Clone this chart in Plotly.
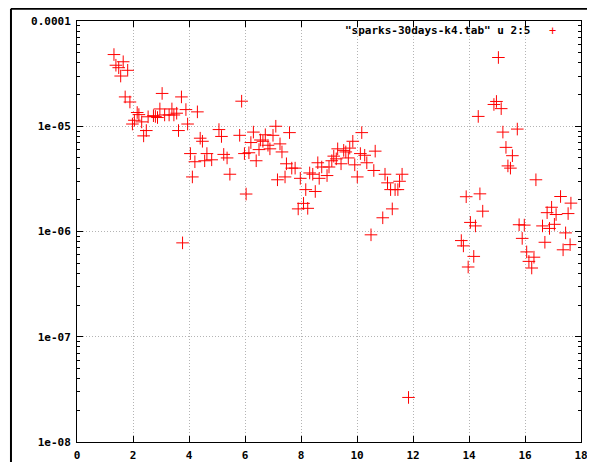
import plotly.graph_objects as go

# Data (x = column 2, y = column 5)
x_vals = [
    1.32, 1.65, 1.39, 1.49, 1.81, 1.56, 1.72, 1.89, 3.04, 3.73,
    2.15, 2.21, 2.05, 1.98, 2.31, 2.54, 2.73, 2.80, 2.875, 2.96,
    3.13, 3.29, 3.39, 3.46, 3.56, 2.475, 2.38, 3.625, 3.77, 3.89,
    4.30, 3.95, 4.40, 4.48, 4.05, 4.21, 4.12, 5.07, 5.16, 4.64,
    4.56, 4.81, 5.24, 5.36, 5.46, 5.88, 5.81, 6.30, 6.21, 6.725,
    7.00, 7.10, 6.55, 6.64, 6.82, 6.89, 7.25, 7.32, 6.50, 5.98,
    6.14, 6.40, 6.04, 7.59, 7.48, 7.16, 7.43, 10.17, 9.85, 9.31,
    9.525, 9.60, 9.74, 9.17, 9.10, 9.26, 9.69, 10.12, 10.275, 10.65,
    9.43, 9.92, 10.35, 8.60, 9.00, 8.74, 7.67, 7.79, 8.31, 8.42,
    8.65, 8.93, 7.975, 10.01, 10.60, 11.00, 11.09, 11.61, 11.52, 11.20,
    11.36, 11.46, 8.17, 8.51, 8.09, 7.90, 8.24, 11.26, 10.92, 10.50,
    11.84, 15.05, 14.89, 14.98, 15.15, 14.33, 15.21, 15.725, 15.32, 15.55,
    15.39, 15.48, 16.39, 13.90, 14.39, 14.49, 14.05, 14.23, 13.725, 13.80,
    14.17, 13.97, 15.79, 15.975, 15.90, 16.06, 16.14, 16.24, 16.32, 16.625,
    16.875, 17.05, 16.71, 16.79, 16.95, 17.11, 17.27, 17.54, 17.64, 17.45,
    17.36, 17.61,
]
y_vals = [
    4.8e-5, 4.1e-5, 3.8e-5, 3.6e-5, 3.4e-5, 3.0e-5, 1.9e-5, 1.7e-5, 2.05e-5, 1.9e-5,
    1.35e-5, 1.29e-5, 1.14e-5, 1.05e-5, 1.10e-5, 1.23e-5, 1.26e-5, 1.24e-5, 1.21e-5, 1.46e-5,
    1.28e-5, 1.28e-5, 1.46e-5, 1.28e-5, 1.33e-5, 9.1e-6, 8.1e-6, 9.1e-6, 7.8e-7, 1.44e-5,
    1.37e-5, 1.05e-5, 7.7e-6, 7.2e-6, 5.5e-6, 4.6e-6, 3.3e-6, 9.3e-6, 8.0e-6, 5.5e-6,
    4.7e-6, 4.8e-6, 5.4e-6, 5.0e-6, 3.5e-6, 1.73e-5, 8.2e-6, 8.8e-6, 7.0e-6, 8.3e-6,
    8.2e-6, 1.0e-5, 7.4e-6, 7.2e-6, 6.6e-6, 6.1e-6, 6.8e-6, 5.7e-6, 6.0e-6, 5.5e-6,
    5.6e-6, 4.7e-6, 2.27e-6, 8.7e-6, 4.4e-6, 3.1e-6, 3.3e-6, 8.7e-6, 7.2e-6, 6.1e-6,
    5.9e-6, 5.7e-6, 6.2e-6, 5.2e-6, 4.7e-6, 4.9e-6, 5.0e-6, 5.5e-6, 5.3e-6, 5.8e-6,
    4.4e-6, 4.3e-6, 4.5e-6, 4.5e-6, 4.1e-6, 4.1e-6, 4.0e-6, 4.0e-6, 3.6e-6, 3.5e-6,
    3.2e-6, 3.4e-6, 3.2e-6, 3.3e-6, 3.8e-6, 3.5e-6, 2.9e-6, 3.5e-6, 3.0e-6, 2.5e-6,
    2.5e-6, 2.5e-6, 2.5e-6, 2.4e-6, 1.85e-6, 1.64e-6, 1.66e-6, 1.64e-6, 1.35e-6, 9.3e-7,
    2.65e-8, 4.5e-5, 1.61e-5, 1.72e-5, 1.47e-5, 1.24e-5, 8.8e-6, 9.4e-6, 6.3e-6, 5.25e-6,
    4.2e-6, 4.0e-6, 3.1e-6, 2.14e-6, 2.28e-6, 1.56e-6, 1.22e-6, 1.13e-6, 8.2e-7, 7.3e-7,
    5.8e-7, 4.6e-7, 1.16e-6, 1.15e-6, 8.6e-7, 6.4e-7, 5.2e-7, 4.5e-7, 5.7e-7, 1.13e-6,
    1.07e-6, 1.17e-6, 7.9e-7, 1.51e-6, 1.70e-6, 1.45e-6, 2.15e-6, 1.48e-6, 1.86e-6, 9.7e-7,
    6.7e-7, 7.5e-7,
]

x_tickvals = [0, 2, 4, 6, 8, 10, 12, 14, 16, 18]
x_ticktext = ["0", "2", "4", "6", "8", "10", "12", "14", "16", "18"]
y_tickvals = [1e-8, 1e-7, 1e-6, 1e-5, 1e-4]
y_ticktext = ["1e-08", "1e-07", "1e-06", "1e-05", "0.0001"]
legend_label = '"sparks-30days-k4.tab" u 2:5'

RED = "#ff0000"
FONT = "DejaVu Sans Mono"

fig = go.Figure()
fig.add_trace(go.Scatter(
    x=x_vals, y=y_vals, mode="markers",
    marker=dict(symbol="cross-thin", size=9, color=RED,
                line=dict(width=1, color=RED)),
    showlegend=False, hoverinfo="x+y",
))

axis_common = dict(
    showline=True, linecolor="black", linewidth=1, mirror="ticks",
    ticks="inside", ticklen=6, tickcolor="black", tickwidth=1,
    showgrid=True, gridcolor="#b4b4b4", griddash="1px,2px", gridwidth=1,
    zeroline=False, automargin=False,
    tickfont=dict(family=FONT, size=11, color="black", weight="bold"),
)

fig.update_xaxes(range=[0, 18], tickvals=x_tickvals, ticktext=x_ticktext,
                 ticklabelstandoff=3, **axis_common)
fig.update_yaxes(type="log", range=[-8, -4], tickvals=y_tickvals,
                 ticktext=y_ticktext, ticklabelstandoff=3,
                 minor=dict(ticks="inside", ticklen=3, tickcolor="black",
                            tickwidth=1, dtick="D1", showgrid=False),
                 **axis_common)

# key (gnuplot style: text then sample)
fig.add_annotation(xref="paper", yref="paper", x=0.902, y=0.977,
                   xanchor="right", yanchor="middle", showarrow=False,
                   text=legend_label,
                   font=dict(family=FONT, size=11, color="black", weight="bold"))
fig.add_annotation(xref="paper", yref="paper", x=0.943, y=0.977,
                   xanchor="center", yanchor="middle", showarrow=False,
                   text="+", font=dict(family=FONT, size=12, color=RED))

# outer window frame (left and top edges)
fig.add_shape(type="line", xref="paper", yref="paper",
              x0=-0.131, x1=-0.131, y0=-0.1, y1=1.029,
              line=dict(color="black", width=2))
fig.add_shape(type="line", xref="paper", yref="paper",
              x0=-0.131, x1=1.1, y0=1.029, y1=1.029,
              line=dict(color="black", width=2))

# the page body adds an 8px offset, so the figure is 8px smaller with shifted margins
fig.update_layout(
    width=587, height=454,
    margin=dict(l=69, r=14, t=13, b=20),
    paper_bgcolor="white", plot_bgcolor="white",
)

fig.write_html("out.html")
